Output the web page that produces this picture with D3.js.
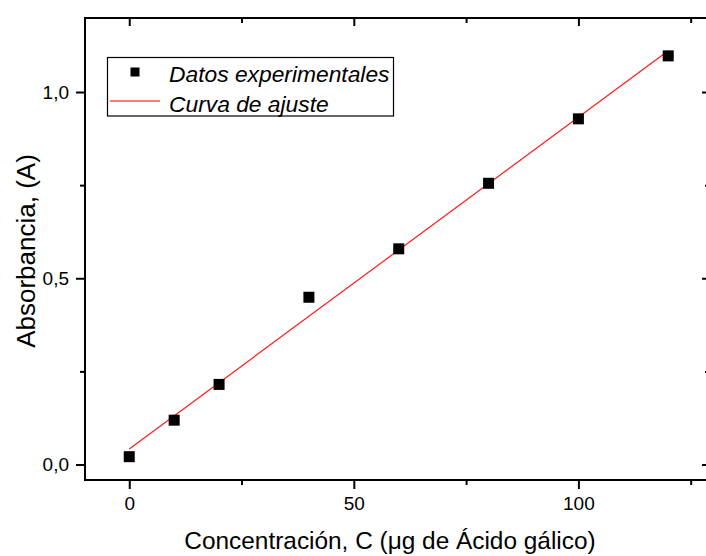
<!DOCTYPE html>
<html>
<head>
<meta charset="utf-8">
<script src="https://cdn.jsdelivr.net/npm/d3@7"></script>
<style>
  html, body { margin: 0; padding: 0; background: #fff; }
  svg { display: block; font-family: Arial, "Liberation Sans", sans-serif; }
</style>
</head>
<body>
<svg id="chart" width="706" height="556"></svg>
<script>
// Calibration data: gallic acid mass vs. absorbance
const concentration = [0, 10, 20, 40, 60, 80, 100, 120];
const absorbance    = [0.021, 0.119, 0.215, 0.449, 0.579, 0.755, 0.928, 1.097];

const xMajorTicks = [0, 50, 100];
const xMinorTicks = [25, 75, 125];
const yMajorTicks = [0, 0.5, 1.0];
const yMinorTicks = [0.25, 0.75];

const legendLabels = ["Datos experimentales", "Curva de ajuste"];
const xTitle = "Concentración, C (μg de Ácido gálico)";
const yTitle = "Absorbancia, (A)";

// Least-squares straight line through the measured points
function linearFit(xs, ys) {
  const n = xs.length;
  const mx = d3.mean(xs), my = d3.mean(ys);
  let sxy = 0, sxx = 0;
  for (let i = 0; i < n; i++) {
    sxy += (xs[i] - mx) * (ys[i] - my);
    sxx += (xs[i] - mx) ** 2;
  }
  const slope = sxy / sxx;
  return { slope, intercept: my - slope * mx };
}
const fit = linearFit(concentration, absorbance);

const svg = d3.select("#chart");
const box = { left: 85, top: 18, right: 710, bottom: 480 };

const x = d3.scaleLinear().domain([-9.85, 129.3]).range([box.left, box.right]);
const y = d3.scaleLinear().domain([-0.0416, 1.1987]).range([box.bottom, box.top]);

const esFormat = d3.formatLocale({ decimal: ",", thousands: ".", grouping: [3], currency: ["", "€"] }).format(".1f");

function styleAxis(g) {
  g.select(".domain").remove();
  g.selectAll(".tick line").attr("stroke", "#000").attr("stroke-width", 2);
  g.selectAll(".tick text").attr("fill", "#000").style("font-size", "19px").style("font-family", "Arial, 'Liberation Sans', sans-serif");
}

// Bottom axis (outward ticks with labels)
svg.append("g").attr("transform", `translate(0,${box.bottom})`)
  .call(d3.axisBottom(x).tickValues(xMajorTicks).tickSize(9).tickPadding(8).tickFormat(d3.format("d")))
  .call(styleAxis);
svg.append("g").attr("transform", `translate(0,${box.bottom})`)
  .call(d3.axisBottom(x).tickValues(xMinorTicks).tickSize(5).tickFormat(""))
  .call(styleAxis);

// Left axis
svg.append("g").attr("transform", `translate(${box.left},0)`)
  .call(d3.axisLeft(y).tickValues(yMajorTicks).tickSize(9).tickPadding(7).tickFormat(esFormat))
  .call(styleAxis);
svg.append("g").attr("transform", `translate(${box.left},0)`)
  .call(d3.axisLeft(y).tickValues(yMinorTicks).tickSize(5).tickFormat(""))
  .call(styleAxis);

// Top and right axes with inward ticks, no labels
svg.append("g").attr("transform", `translate(0,${box.top})`)
  .call(d3.axisBottom(x).tickValues(xMajorTicks).tickSize(8).tickFormat(""))
  .call(styleAxis);
svg.append("g").attr("transform", `translate(0,${box.top})`)
  .call(d3.axisBottom(x).tickValues(xMinorTicks).tickSize(5).tickFormat(""))
  .call(styleAxis);
svg.append("g").attr("transform", `translate(${box.right},0)`)
  .call(d3.axisLeft(y).tickValues(yMajorTicks).tickSize(8).tickFormat(""))
  .call(styleAxis);
svg.append("g").attr("transform", `translate(${box.right},0)`)
  .call(d3.axisLeft(y).tickValues(yMinorTicks).tickSize(5).tickFormat(""))
  .call(styleAxis);

// Plot frame
svg.append("rect")
  .attr("x", box.left).attr("y", box.top)
  .attr("width", box.right - box.left).attr("height", box.bottom - box.top)
  .attr("fill", "none").attr("stroke", "#000").attr("stroke-width", 2);

// Fitted line over the measured range
const xExtent = d3.extent(concentration);
svg.append("line")
  .attr("x1", x(xExtent[0])).attr("y1", y(fit.intercept + fit.slope * xExtent[0]))
  .attr("x2", x(xExtent[1])).attr("y2", y(fit.intercept + fit.slope * xExtent[1]))
  .attr("stroke", "#ff1a1a").attr("stroke-width", 1.2);

// Measured points
const sq = 11;
svg.append("g").selectAll("rect")
  .data(concentration.map((c, i) => [c, absorbance[i]]))
  .join("rect")
  .attr("x", d => x(d[0]) - sq / 2)
  .attr("y", d => y(d[1]) - sq / 2)
  .attr("width", sq).attr("height", sq)
  .attr("fill", "#000");

// Legend
const lg = svg.append("g");
lg.append("rect").attr("x", 107.5).attr("y", 57.5).attr("width", 286).attr("height", 58.5)
  .attr("fill", "#fff").attr("stroke", "#000").attr("stroke-width", 1.2);
lg.append("rect").attr("x", 135 - 4.5).attr("y", 72 - 4.5).attr("width", 9).attr("height", 9).attr("fill", "#000");
lg.append("line").attr("x1", 110).attr("x2", 160).attr("y1", 101).attr("y2", 101)
  .attr("stroke", "#ff4d4d").attr("stroke-width", 1.6);
lg.selectAll("text").data(legendLabels).join("text")
  .attr("x", 169).attr("y", (d, i) => 82 + i * 30)
  .style("font-size", "22.8px").style("font-style", "italic")
  .attr("fill", "#000")
  .text(d => d);

// Axis titles
svg.append("text")
  .attr("x", (183 + 597) / 2).attr("y", 549)
  .attr("text-anchor", "middle")
  .style("font-size", "24.4px")
  .text(xTitle);

svg.append("text")
  .attr("transform", "translate(35,251) rotate(-90)")
  .attr("text-anchor", "middle")
  .style("font-size", "26px")
  .text(yTitle);
</script>
</body>
</html>
